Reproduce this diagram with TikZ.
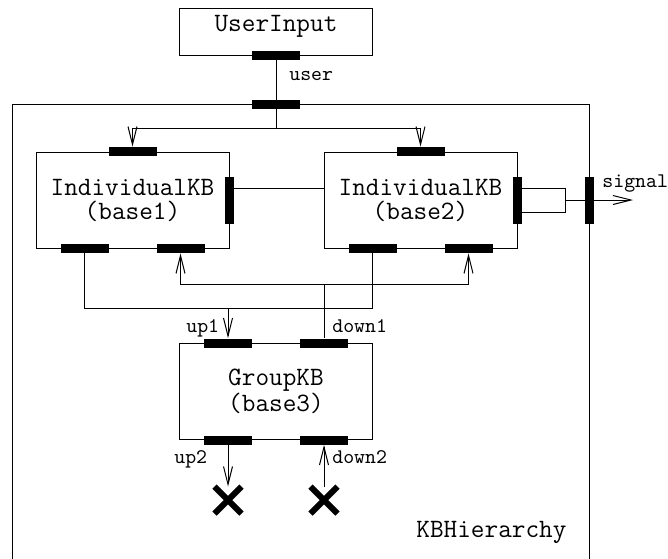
\documentclass[tikz,border=0pt]{standalone}
\usepackage{fontspec}
\usetikzlibrary{arrows.meta,shapes.misc}
\tikzset{
	kbbox/.style={draw, line width=0.5pt, minimum width=96.5pt, minimum height=48pt, align=center, font=\ttfamily\fontsize{13.25}{12}\selectfont},
	hport/.style={fill, inner sep=0, minimum width=24pt, minimum height=4.5pt},
	vport/.style={fill, inner sep=0, minimum width=4.5pt, minimum height=23.5pt},
	wire/.style={line width=0.5pt},
	flow/.style={wire, -{Straight Barb[length=9pt,width=4.5pt]}},
	portlbl/.style={anchor=base west, inner sep=0, font=\ttfamily\fontsize{10.4}{12}\selectfont},
	sink/.style={cross out, draw, line width=3pt, minimum size=10.5pt, inner sep=0},
}
\newcommand{\individual}[4]{
	\node [kbbox] (#1) at (#2,#3) {#4};
	\node [hport] (#1t) at (#1.north) {};
	\node [vport] (#1r) at (#1.east) {};
	\node [hport] (#1b1) at ([xshift=-24pt]#1.south) {};
	\node [hport] (#1b2) at ([xshift=24pt]#1.south) {};
}
\begin{document}
\begin{tikzpicture}[x=0.5pt, y=-0.5pt]
	\useasboundingbox (0,0) rectangle (668,558);
	
	% user input and the hierarchy frame
	\node [kbbox, minimum height=23.5pt, text height=7pt, text depth=7pt] (ui) at (276,31.5) {UserInput};
	\node [hport] (uip) at (ui.south) {};
	\node [draw, wire, anchor=north west, minimum width=288.5pt, minimum height=250pt] (kbh) at (11.5,104) {};
	\node [hport] (kbp) at (ui.south |- kbh.north) {};
	
	% the two individual bases
	\individual{ikb1}{132.5}{200}{IndividualKB\\(base1)}
	\individual{ikb2}{420.5}{200}{IndividualKB\\(base2)}
	\node [vport] (sigp) at (kbh.east |- ikb2r.center) {};
	
	% the group base
	\node [kbbox] (grp) at (276,391.5) {GroupKB\\(base3)};
	\foreach \s/\d in {1/-24pt, 2/24pt}{
		\node [hport] (grpt\s) at ([xshift=\d]grp.north) {};
		\node [hport] (grpb\s) at ([xshift=\d]grp.south) {};
	}
	\node [sink] (x1) at (228,500) {};
	\node [sink] (x2) at (324,500) {};
	
	\coordinate (fork) at (276,128);
	\coordinate (upbus) at (228,308);
	\coordinate (dnbus) at (324,284);
	\coordinate (sigend) at (633,200);
	
	% wires
	\draw [wire] (uip.south) -- (fork);
	\draw [flow] (fork) -| (ikb1t.north);
	\draw [flow] (fork) -| (ikb2t.north);
	\path (ikb1r.east) ++(0,-12) coordinate (peer);
	\draw [wire] (peer) -- (peer -| ikb2.west);
	\path (ikb2r.east) ++(0,-12) coordinate (s1) ++(0,24) coordinate (s2);
	\draw [wire] (s1) -- ++(43,0) coordinate (sj) |- (s2);
	\draw [wire] (sj |- sigp.west) -- (sigp.west);
	\draw [flow] (sigp.east) -- (sigend);
	\draw [wire] (ikb1b1.south) |- (upbus) -| (ikb2b1.south);
	\draw [flow] (upbus) -- (grpt1.north);
	\draw [flow] (dnbus) -| (ikb1b2.south);
	\draw [flow] (dnbus) -| (ikb2b2.south);
	\draw [wire] (dnbus) -- (grpt2.north);
	\draw [flow] (grpb1.south) -- (x1.north);
	\draw [flow] (x2.north) -- (grpb2.south);
	
	% port names
	\node [portlbl] (luser) at (289,80) {user};
	\node [portlbl] (lsignal) at (602,187.5) {signal};
	\node [portlbl] (lup1) at (186,332) {up1};
	\node [portlbl] (ldown1) at (332,332) {down1};
	\node [portlbl] (lup2) at (174,463) {up2};
	\node [portlbl] (ldown2) at (332,463) {down2};
	\node [anchor=base west, inner sep=0, font=\ttfamily\fontsize{13.25}{12}\selectfont] (lkbh) at (416,537) {KBHierarchy};
\end{tikzpicture}
\end{document}
